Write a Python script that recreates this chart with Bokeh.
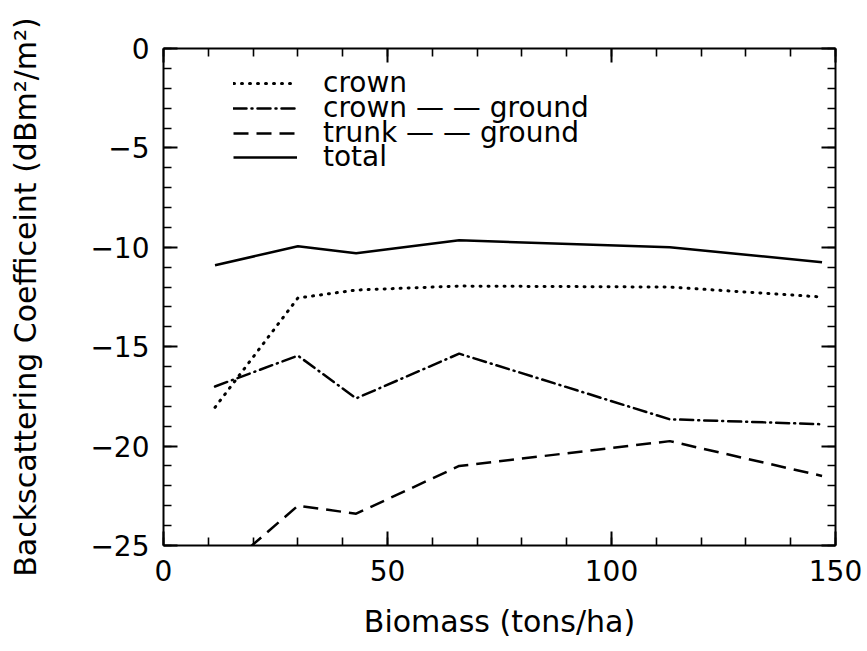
from bokeh.plotting import figure
from bokeh.models import LinearAxis, Legend, LegendItem, Range1d, FixedTicker
from bokeh.embed import file_html
from bokeh.resources import INLINE

# Biomass (tons/ha) at which the backscatter terms were evaluated
biomass = [11.5, 30, 43, 66, 113, 147]

# Backscattering coefficient terms (dBm^2/m^2)
crown = [-18.05, -12.55, -12.15, -11.95, -12.0, -12.5]
crown_ground = [-17.0, -15.45, -17.6, -15.35, -18.65, -18.9]
trunk_ground = [-26.6, -23.0, -23.4, -21.0, -19.75, -21.5]
total = [-10.9, -9.95, -10.3, -9.65, -10.0, -10.75]

series_labels = ["crown", "crown — — ground", "trunk — — ground", "total"]

x_major = [0, 50, 100, 150]
x_minor = list(range(0, 151, 10))
y_major = [-25, -20, -15, -10, -5, 0]
y_minor = list(range(-25, 1))

FONT = "DejaVu Sans"

p = figure(
    width=867, height=651,
    x_range=Range1d(0, 150), y_range=Range1d(-25, 0),
    output_backend="svg", toolbar_location=None,
    min_border_left=163, min_border_right=32,
    min_border_top=48, min_border_bottom=106,
    x_axis_label="Biomass (tons/ha)",
    y_axis_label="Backscattering Coefficeint (dBm²/m²)",
)
p.xgrid.visible = False
p.ygrid.visible = False
p.outline_line_color = None
p.background_fill_color = "white"
p.border_fill_color = "white"

w = 2.5
r_crown = p.line(biomass, crown, line_color="black", line_width=3,
                 line_dash="1 7", line_cap="round")
r_cg = p.line(biomass, crown_ground, line_color="black", line_width=w,
              line_dash="13 5 1 5", line_cap="round")
r_tg = p.line(biomass, trunk_ground, line_color="black", line_width=w,
              line_dash="15 8")
r_total = p.line(biomass, total, line_color="black", line_width=w)


def style_ticks(ax):
    ax.axis_line_width = 2
    ax.axis_line_color = "black"
    ax.major_tick_in = 14
    ax.major_tick_out = 0
    ax.minor_tick_in = 8
    ax.minor_tick_out = 0
    ax.major_tick_line_width = 2
    ax.minor_tick_line_width = 1.6
    ax.major_tick_line_color = "black"
    ax.minor_tick_line_color = "black"


def style_labels(ax):
    ax.major_label_text_font = FONT
    ax.major_label_text_font_size = "28px"
    ax.major_label_text_color = "black"
    ax.major_label_standoff = 14
    ax.axis_label_text_font = FONT
    ax.axis_label_text_font_size = "30px"
    ax.axis_label_text_font_style = "normal"
    ax.axis_label_text_color = "black"


xb = p.xaxis[0]
xb.ticker = FixedTicker(ticks=x_major, minor_ticks=x_minor)
style_ticks(xb)
style_labels(xb)
xb.axis_label_standoff = 20

yl = p.yaxis[0]
yl.ticker = FixedTicker(ticks=y_major, minor_ticks=y_minor)
style_ticks(yl)
style_labels(yl)
yl.axis_label_standoff = 44
yl.major_label_overrides = {v: str(v).replace("-", "−") for v in y_major if v < 0}

# mirrored tick marks on the top and right edges of the frame
top = LinearAxis(ticker=FixedTicker(ticks=x_major, minor_ticks=x_minor),
                 major_label_overrides={v: "" for v in x_major})
right = LinearAxis(ticker=FixedTicker(ticks=y_major, minor_ticks=y_minor),
                   major_label_overrides={v: "" for v in y_major})
for ax in (top, right):
    style_ticks(ax)
    ax.major_label_standoff = 0
p.add_layout(top, "above")
p.add_layout(right, "right")

# one single-row legend per series so the rows sit close together
legend_rows_y = [446, 421, 396, 372]
for lab, r, ypos in zip(series_labels, [r_crown, r_cg, r_tg, r_total], legend_rows_y):
    lg = Legend(
        items=[LegendItem(label=lab, renderers=[r])],
        location=(70, ypos),
        glyph_width=64, glyph_height=20,
        label_standoff=26,
        padding=0, margin=0,
        label_text_font=FONT, label_text_font_size="28px",
        label_text_color="black",
        background_fill_alpha=0, border_line_alpha=0,
    )
    p.add_layout(lg, "center")

open("out.html", "w").write(file_html(p, INLINE))
